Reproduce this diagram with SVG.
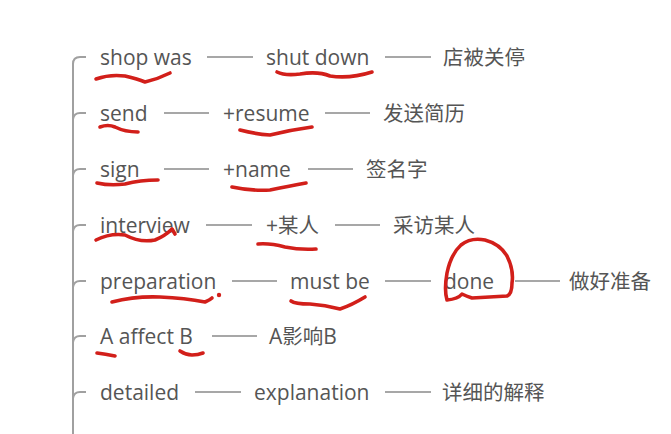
<svg xmlns="http://www.w3.org/2000/svg" width="671" height="434" viewBox="0 0 671 434">
<style>
.t{font-family:"Open Sans","Noto Sans CJK SC",sans-serif;font-size:21px;fill:#555}
.c{font-family:"Noto Sans CJK SC",sans-serif;font-size:20.5px;fill:#555}
.ln{stroke:#8a8a8a;stroke-width:1.5;fill:none}
.br{stroke:#a0a0a0;stroke-width:2;fill:none}
.ink{stroke:#d21f1a;stroke-width:3.6;fill:none;stroke-linecap:round;stroke-linejoin:round}
</style>
<rect width="671" height="434" fill="#fff"/>
<g id="connectors">
<path class="br" d="M86,57 L80,57 Q73,57 73,64 L73,434"/>
<path class="br" d="M73,119 Q74,113 80,113 L86,113"/>
<path class="br" d="M73,175 Q74,169 80,169 L86,169"/>
<path class="br" d="M73,231 Q74,225 80,225 L86,225"/>
<path class="br" d="M73,287 Q74,281 80,281 L86,281"/>
<path class="br" d="M73,342 Q74,336 80,336 L86,336"/>
<path class="br" d="M73,398 Q74,392 80,392 L86,392"/>
<path class="ln" d="M207,57 H253 M385,57 H431"/>
<path class="ln" d="M164,113 H209 M325,113 H370"/>
<path class="ln" d="M164,169 H209 M308,169 H353"/>
<path class="ln" d="M206,225 H252 M335,225 H380"/>
<path class="ln" d="M232,281 H277 M385,281 H431 M515,281 H560"/>
<path class="ln" d="M212,336 H257"/>
<path class="ln" d="M195,392 H241 M385,392 H431"/>
</g>
<g id="row1">
<text class="t" x="100" y="65">shop was</text>
<text class="t" x="266" y="65">shut down</text>
<text class="c" x="443" y="65">店被关停</text>
</g>
<g id="row2">
<text class="t" x="100" y="121">send</text>
<text class="t" x="223" y="121">+resume</text>
<text class="c" x="383" y="121">发送简历</text>
</g>
<g id="row3">
<text class="t" x="100" y="177">sign</text>
<text class="t" x="223" y="177">+name</text>
<text class="c" x="366" y="177">签名字</text>
</g>
<g id="row4">
<text class="t" x="100" y="233">interview</text>
<text class="t" x="266" y="233">+<tspan class="c">某人</tspan></text>
<text class="c" x="393" y="233">采访某人</text>
</g>
<g id="row5">
<text class="t" x="100" y="289">preparation</text>
<text class="t" x="290" y="289">must be</text>
<text class="t" x="444" y="289">done</text>
<text class="c" x="569" y="289">做好准备</text>
</g>
<g id="row6">
<text class="t" x="100" y="344">A affect B</text>
<text class="t" x="269" y="344">A<tspan class="c">影响</tspan>B</text>
</g>
<g id="row7">
<text class="t" x="100" y="400">detailed</text>
<text class="t" x="254" y="400">explanation</text>
<text class="c" x="442" y="400">详细的解释</text>
</g>
<g id="annotations">
<path class="ink" d="M96,79 Q110,74 125,76 Q138,79 145,82 Q158,79 170,73"/>
<path class="ink" d="M277,72 Q285,76 300,74 Q318,71 330,76 Q350,79 372,72"/>
<path class="ink" d="M100,127 Q108,124 115,127 Q125,132 138,132"/>
<path class="ink" d="M240,130 Q255,134 270,135 Q290,130 312,127"/>
<path class="ink" d="M97,183 Q110,186 125,184 Q140,180 158,180"/>
<path class="ink" d="M232,187 Q250,191 270,190 Q290,186 306,183"/>
<path class="ink" d="M96,240 Q110,233 125,235 Q140,243 155,240 Q165,236 172,229 L175,234"/>
<path class="ink" d="M258,244 Q270,243 285,247 Q300,250 316,249"/>
<path class="ink" d="M112,302 Q135,296 160,297 Q185,298 205,302 Q210,300 212,298"/>
<circle cx="219" cy="295" r="2.2" fill="#d21f1a"/>
<path class="ink" d="M291,301 Q295,304 310,304 Q325,305 340,309 Q352,305 365,297"/>
<path class="ink" d="M97,353 Q105,354 115,356"/>
<path class="ink" d="M180,351 Q186,355 192,355 Q198,355 203,353"/>
<path class="ink" d="M447,300 Q444,290 447,273 Q451,254 461,245 Q471,237 485,240 Q500,244 507,256 Q514,270 512,283 Q512,294 507,296 Q490,297 472,298 Q466,296 462,294 Q458,299 447,300"/>
</g>
</svg>
